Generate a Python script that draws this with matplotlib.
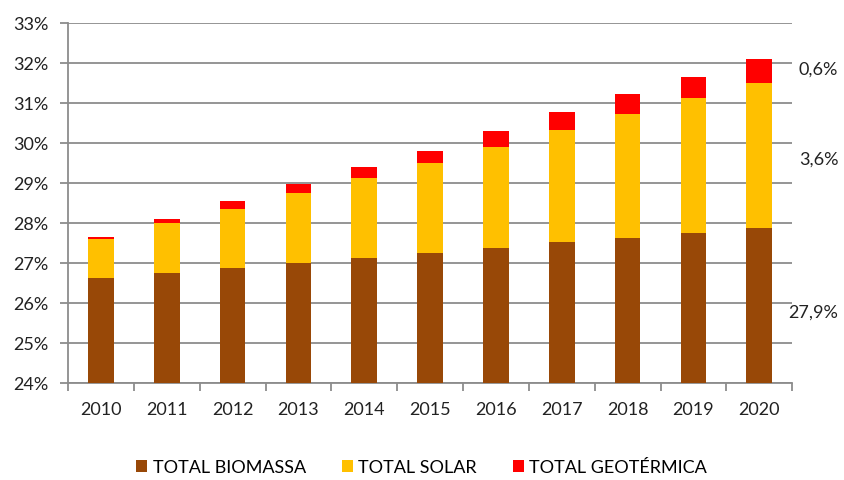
import matplotlib.pyplot as plt
import numpy as np

plt.rcParams['font.family'] = ['Lato', 'DejaVu Sans']

years = ['2010', '2011', '2012', '2013', '2014', '2015', '2016', '2017', '2018', '2019', '2020']
# cumulative tops (%)
biomassa_top = [26.63, 26.76, 26.88, 27.01, 27.13, 27.24, 27.37, 27.52, 27.63, 27.76, 27.87]
solar_top = [27.60, 27.99, 28.36, 28.75, 29.13, 29.49, 29.91, 30.33, 30.73, 31.12, 31.50]
geo_top = [27.66, 28.11, 28.54, 28.97, 29.40, 29.81, 30.29, 30.77, 31.22, 31.66, 32.09]

biomassa = np.array(biomassa_top)
solar = np.array(solar_top) - biomassa
geo = np.array(geo_top) - np.array(solar_top)

labels = ['TOTAL BIOMASSA', 'TOTAL SOLAR', 'TOTAL GEOTÉRMICA']
colors = ['#984807', '#FFC000', '#FF0000']
end_labels = ['27,9%', '3,6%', '0,6%']
end_pos = [25.75, 29.58, 31.83]  # where the share labels sit on the y scale

fig = plt.figure(figsize=(8.45, 4.8), dpi=100)
ax = fig.add_axes([0.0805, 0.202, 0.857, 0.750])

x = np.arange(len(years))
w = 0.39
base = 24
ax.bar(x, biomassa - base, w, bottom=base, color=colors[0], label=labels[0], zorder=3)
ax.bar(x, solar, w, bottom=biomassa, color=colors[1], label=labels[1], zorder=3)
ax.bar(x, geo, w, bottom=solar_top, color=colors[2], label=labels[2], zorder=3)

ax.set_ylim(24, 33)
ax.set_xlim(-0.5, len(years) - 0.5)
ax.set_yticks(np.arange(24, 34, 1))
ax.set_yticklabels([f'{v}%' for v in range(24, 34)], fontsize=13, color='#222222')
ax.yaxis.grid(True, color='#8c8c8c', linewidth=1.3, zorder=0)

ax.set_xticks(x)
ax.set_xticklabels(years, fontsize=13, color='#222222')
ax.set_xticks(np.arange(-0.5, len(years)), minor=True)
ax.tick_params(axis='x', which='major', length=0, pad=14)
ax.tick_params(axis='x', which='minor', length=6, color='#8c8c8c', width=1.3)
ax.tick_params(axis='y', length=6, color='#8c8c8c', width=1.3, pad=8)

for s in ['top', 'right']:
    ax.spines[s].set_visible(False)
for s in ['left', 'bottom']:
    ax.spines[s].set_color('#8c8c8c')
    ax.spines[s].set_linewidth(1.3)

# share labels to the right of the last bar
last = len(years) - 1
for lab, yv, dx in zip(end_labels, end_pos, [0.44, 0.6, 0.6]):
    ax.text(last + dx, yv, lab, fontsize=13, va='center', color='#222222')

fig.legend(loc='center', bbox_to_anchor=(0.499, 0.026), ncol=3, frameon=False,
           fontsize=13, handlelength=0.6, handleheight=0.6, handletextpad=0.3,
           columnspacing=2.0)

fig.savefig('out.png', dpi=100)
